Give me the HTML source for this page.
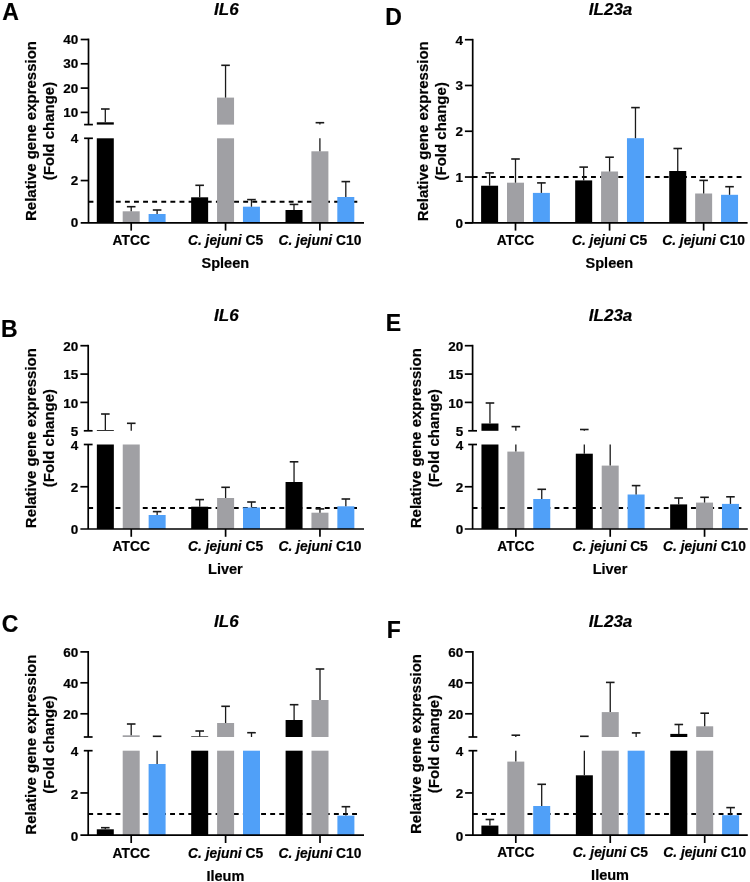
<!DOCTYPE html>
<html><head><meta charset="utf-8"><style>
html,body{margin:0;padding:0;background:#fff;}
svg{display:block;will-change:transform;}
text{font-family:"Liberation Sans", sans-serif;font-weight:bold;fill:#000;stroke:#000;stroke-width:0.2px;}
</style></head><body>
<svg width="750" height="882" viewBox="0 0 750 882">
<rect width="750" height="882" fill="#fff"/>
<g transform="translate(0,0)">
<text x="2.3" y="19.7" font-size="23" text-anchor="start">A</text>
<text x="226.4" y="14.7" font-size="17" text-anchor="middle" font-style="italic">IL6</text>
<text transform="translate(36.2,131) rotate(-90)" font-size="15" text-anchor="middle">Relative gene expression</text>
<text transform="translate(53.7,131) rotate(-90)" font-size="15" text-anchor="middle">(Fold change)</text>
<line x1="88.5" y1="201.68" x2="358.8" y2="201.68" stroke="#000" stroke-width="2.0" stroke-dasharray="4.9 4.2"/>
<rect x="96.8" y="138.3" width="17" height="84.5" fill="#000"/>
<rect x="96.8" y="122.3" width="17" height="2.3" fill="#000"/>
<line x1="105.3" y1="122.3" x2="105.3" y2="109" stroke="#1a1a1a" stroke-width="1.3"/>
<line x1="101" y1="109" x2="109.6" y2="109" stroke="#1a1a1a" stroke-width="1.6"/>
<rect x="122.7" y="211.3" width="17" height="11.5" fill="#a0a0a4"/>
<line x1="131.2" y1="211.3" x2="131.2" y2="206.7" stroke="#1a1a1a" stroke-width="1.3"/>
<line x1="126.9" y1="206.7" x2="135.5" y2="206.7" stroke="#1a1a1a" stroke-width="1.6"/>
<rect x="148.6" y="214" width="17" height="8.8" fill="#50a0f8"/>
<line x1="157.1" y1="214" x2="157.1" y2="210" stroke="#1a1a1a" stroke-width="1.3"/>
<line x1="152.8" y1="210" x2="161.4" y2="210" stroke="#1a1a1a" stroke-width="1.6"/>
<rect x="191.15" y="197.3" width="17" height="25.5" fill="#000"/>
<line x1="199.65" y1="197.3" x2="199.65" y2="185.3" stroke="#1a1a1a" stroke-width="1.3"/>
<line x1="195.35" y1="185.3" x2="203.95" y2="185.3" stroke="#1a1a1a" stroke-width="1.6"/>
<rect x="217.05" y="138.3" width="17" height="84.5" fill="#a0a0a4"/>
<rect x="217.05" y="97.6" width="17" height="27" fill="#a0a0a4"/>
<line x1="225.55" y1="97.6" x2="225.55" y2="65.3" stroke="#1a1a1a" stroke-width="1.3"/>
<line x1="221.25" y1="65.3" x2="229.85" y2="65.3" stroke="#1a1a1a" stroke-width="1.6"/>
<rect x="242.95" y="206.7" width="17" height="16.1" fill="#50a0f8"/>
<line x1="251.45" y1="206.7" x2="251.45" y2="199.6" stroke="#1a1a1a" stroke-width="1.3"/>
<line x1="247.15" y1="199.6" x2="255.75" y2="199.6" stroke="#1a1a1a" stroke-width="1.6"/>
<rect x="285.5" y="210" width="17" height="12.8" fill="#000"/>
<line x1="294" y1="210" x2="294" y2="204.4" stroke="#1a1a1a" stroke-width="1.3"/>
<line x1="289.7" y1="204.4" x2="298.3" y2="204.4" stroke="#1a1a1a" stroke-width="1.6"/>
<rect x="311.4" y="151.3" width="17" height="71.5" fill="#a0a0a4"/>
<line x1="319.9" y1="151.3" x2="319.9" y2="138.3" stroke="#1a1a1a" stroke-width="1.3"/>
<line x1="319.9" y1="124.6" x2="319.9" y2="122.7" stroke="#1a1a1a" stroke-width="1.3"/>
<line x1="315.6" y1="122.7" x2="324.2" y2="122.7" stroke="#1a1a1a" stroke-width="1.6"/>
<rect x="337.3" y="197" width="17" height="25.8" fill="#50a0f8"/>
<line x1="345.8" y1="197" x2="345.8" y2="181.6" stroke="#1a1a1a" stroke-width="1.3"/>
<line x1="341.5" y1="181.6" x2="350.1" y2="181.6" stroke="#1a1a1a" stroke-width="1.6"/>
<line x1="88.5" y1="38.6" x2="88.5" y2="124.6" stroke="#000" stroke-width="1.7"/>
<line x1="88.5" y1="138.3" x2="88.5" y2="222.8" stroke="#000" stroke-width="1.7"/>
<line x1="84.1" y1="124.6" x2="92.9" y2="124.6" stroke="#000" stroke-width="1.7"/>
<line x1="84.1" y1="138.3" x2="92.9" y2="138.3" stroke="#000" stroke-width="1.7"/>
<line x1="80.7" y1="39.5" x2="88.5" y2="39.5" stroke="#000" stroke-width="1.7"/>
<text x="78.3" y="44.1" font-size="13.5" text-anchor="end">40</text>
<line x1="80.7" y1="63.8" x2="88.5" y2="63.8" stroke="#000" stroke-width="1.7"/>
<text x="78.3" y="68.4" font-size="13.5" text-anchor="end">30</text>
<line x1="80.7" y1="88.1" x2="88.5" y2="88.1" stroke="#000" stroke-width="1.7"/>
<text x="78.3" y="92.7" font-size="13.5" text-anchor="end">20</text>
<line x1="80.7" y1="112.4" x2="88.5" y2="112.4" stroke="#000" stroke-width="1.7"/>
<text x="78.3" y="117" font-size="13.5" text-anchor="end">10</text>
<line x1="80.7" y1="180.55" x2="88.5" y2="180.55" stroke="#000" stroke-width="1.7"/>
<text x="78.3" y="142.9" font-size="13.5" text-anchor="end">4</text>
<text x="78.3" y="185.15" font-size="13.5" text-anchor="end">2</text>
<text x="78.3" y="227.4" font-size="13.5" text-anchor="end">0</text>
<line x1="80.7" y1="222.8" x2="364" y2="222.8" stroke="#000" stroke-width="1.7"/>
<line x1="131.2" y1="222.8" x2="131.2" y2="230.6" stroke="#000" stroke-width="1.7"/>
<line x1="225.55" y1="222.8" x2="225.55" y2="230.6" stroke="#000" stroke-width="1.7"/>
<line x1="319.9" y1="222.8" x2="319.9" y2="230.6" stroke="#000" stroke-width="1.7"/>
<text x="131.2" y="245" font-size="13.8" text-anchor="middle">ATCC</text>
<text x="225.55" y="245" font-size="13.8" text-anchor="middle"><tspan font-style="italic">C. jejuni</tspan> C5</text>
<text x="319.9" y="245" font-size="13.8" text-anchor="middle"><tspan font-style="italic">C. jejuni</tspan> C10</text>
<text x="225.35" y="267.6" font-size="14.5" text-anchor="middle">Spleen</text>
</g>
<g transform="translate(0,306.2)">
<text x="1" y="30.5" font-size="23" text-anchor="start">B</text>
<text x="226.4" y="14.7" font-size="17" text-anchor="middle" font-style="italic">IL6</text>
<text transform="translate(36.2,131.9) rotate(-90)" font-size="15" text-anchor="middle">Relative gene expression</text>
<text transform="translate(53.7,131.9) rotate(-90)" font-size="15" text-anchor="middle">(Fold change)</text>
<line x1="88.2" y1="201.68" x2="358.8" y2="201.68" stroke="#000" stroke-width="2.0" stroke-dasharray="4.9 4.2"/>
<rect x="96.85" y="138.3" width="17" height="84.5" fill="#000"/>
<rect x="96.85" y="123.8" width="17" height="0.8" fill="#000"/>
<line x1="105.35" y1="123.8" x2="105.35" y2="107.8" stroke="#1a1a1a" stroke-width="1.3"/>
<line x1="101.05" y1="107.8" x2="109.65" y2="107.8" stroke="#1a1a1a" stroke-width="1.6"/>
<rect x="122.75" y="138.3" width="17" height="84.5" fill="#a0a0a4"/>
<line x1="131.25" y1="124.6" x2="131.25" y2="117.1" stroke="#1a1a1a" stroke-width="1.3"/>
<line x1="126.95" y1="117.1" x2="135.55" y2="117.1" stroke="#1a1a1a" stroke-width="1.6"/>
<rect x="148.65" y="208.8" width="17" height="14" fill="#50a0f8"/>
<line x1="157.15" y1="208.8" x2="157.15" y2="205.4" stroke="#1a1a1a" stroke-width="1.3"/>
<line x1="152.85" y1="205.4" x2="161.45" y2="205.4" stroke="#1a1a1a" stroke-width="1.6"/>
<rect x="191.2" y="200.5" width="17" height="22.3" fill="#000"/>
<line x1="199.7" y1="200.5" x2="199.7" y2="193.4" stroke="#1a1a1a" stroke-width="1.3"/>
<line x1="195.4" y1="193.4" x2="204" y2="193.4" stroke="#1a1a1a" stroke-width="1.6"/>
<rect x="217.1" y="191.8" width="17" height="31" fill="#a0a0a4"/>
<line x1="225.6" y1="191.8" x2="225.6" y2="181.1" stroke="#1a1a1a" stroke-width="1.3"/>
<line x1="221.3" y1="181.1" x2="229.9" y2="181.1" stroke="#1a1a1a" stroke-width="1.6"/>
<rect x="243" y="201.3" width="17" height="21.5" fill="#50a0f8"/>
<line x1="251.5" y1="201.3" x2="251.5" y2="195.8" stroke="#1a1a1a" stroke-width="1.3"/>
<line x1="247.2" y1="195.8" x2="255.8" y2="195.8" stroke="#1a1a1a" stroke-width="1.6"/>
<rect x="285.55" y="175.8" width="17" height="47" fill="#000"/>
<line x1="294.05" y1="175.8" x2="294.05" y2="155.6" stroke="#1a1a1a" stroke-width="1.3"/>
<line x1="289.75" y1="155.6" x2="298.35" y2="155.6" stroke="#1a1a1a" stroke-width="1.6"/>
<rect x="311.45" y="206.5" width="17" height="16.3" fill="#a0a0a4"/>
<line x1="319.95" y1="206.5" x2="319.95" y2="202.7" stroke="#1a1a1a" stroke-width="1.3"/>
<line x1="315.65" y1="202.7" x2="324.25" y2="202.7" stroke="#1a1a1a" stroke-width="1.6"/>
<rect x="337.35" y="200.1" width="17" height="22.7" fill="#50a0f8"/>
<line x1="345.85" y1="200.1" x2="345.85" y2="192.8" stroke="#1a1a1a" stroke-width="1.3"/>
<line x1="341.55" y1="192.8" x2="350.15" y2="192.8" stroke="#1a1a1a" stroke-width="1.6"/>
<line x1="88.2" y1="38.6" x2="88.2" y2="124.6" stroke="#000" stroke-width="1.7"/>
<line x1="88.2" y1="138.3" x2="88.2" y2="222.8" stroke="#000" stroke-width="1.7"/>
<line x1="83.8" y1="124.6" x2="92.6" y2="124.6" stroke="#000" stroke-width="1.7"/>
<line x1="83.8" y1="138.3" x2="92.6" y2="138.3" stroke="#000" stroke-width="1.7"/>
<line x1="80.4" y1="39.5" x2="88.2" y2="39.5" stroke="#000" stroke-width="1.7"/>
<text x="78.3" y="44.9" font-size="13.5" text-anchor="end">20</text>
<line x1="80.4" y1="67.9" x2="88.2" y2="67.9" stroke="#000" stroke-width="1.7"/>
<text x="78.3" y="73.3" font-size="13.5" text-anchor="end">15</text>
<line x1="80.4" y1="96.2" x2="88.2" y2="96.2" stroke="#000" stroke-width="1.7"/>
<text x="78.3" y="101.6" font-size="13.5" text-anchor="end">10</text>
<text x="78.3" y="130" font-size="13.5" text-anchor="end">5</text>
<line x1="80.4" y1="180.55" x2="88.2" y2="180.55" stroke="#000" stroke-width="1.7"/>
<text x="78.3" y="143.7" font-size="13.5" text-anchor="end">4</text>
<text x="78.3" y="185.95" font-size="13.5" text-anchor="end">2</text>
<text x="78.3" y="228.2" font-size="13.5" text-anchor="end">0</text>
<line x1="80.4" y1="222.8" x2="364" y2="222.8" stroke="#000" stroke-width="1.7"/>
<line x1="131.25" y1="222.8" x2="131.25" y2="230.6" stroke="#000" stroke-width="1.7"/>
<line x1="225.6" y1="222.8" x2="225.6" y2="230.6" stroke="#000" stroke-width="1.7"/>
<line x1="319.95" y1="222.8" x2="319.95" y2="230.6" stroke="#000" stroke-width="1.7"/>
<text x="131.25" y="245" font-size="13.8" text-anchor="middle">ATCC</text>
<text x="225.6" y="245" font-size="13.8" text-anchor="middle"><tspan font-style="italic">C. jejuni</tspan> C5</text>
<text x="319.95" y="245" font-size="13.8" text-anchor="middle"><tspan font-style="italic">C. jejuni</tspan> C10</text>
<text x="225.4" y="267.6" font-size="14.5" text-anchor="middle">Liver</text>
</g>
<g transform="translate(0,612.4)">
<text x="1.7" y="19.6" font-size="23" text-anchor="start">C</text>
<text x="226.4" y="14.7" font-size="17" text-anchor="middle" font-style="italic">IL6</text>
<text transform="translate(36.2,132.2) rotate(-90)" font-size="15" text-anchor="middle">Relative gene expression</text>
<text transform="translate(53.7,132.2) rotate(-90)" font-size="15" text-anchor="middle">(Fold change)</text>
<line x1="88.2" y1="201.68" x2="358.8" y2="201.68" stroke="#000" stroke-width="2.0" stroke-dasharray="4.9 4.2"/>
<rect x="96.8" y="216.9" width="17" height="5.9" fill="#000"/>
<line x1="105.3" y1="216.9" x2="105.3" y2="215.3" stroke="#1a1a1a" stroke-width="1.3"/>
<line x1="101" y1="215.3" x2="109.6" y2="215.3" stroke="#1a1a1a" stroke-width="1.6"/>
<rect x="122.7" y="138.3" width="17" height="84.5" fill="#a0a0a4"/>
<rect x="122.7" y="122.9" width="17" height="1.7" fill="#a0a0a4"/>
<line x1="131.2" y1="122.9" x2="131.2" y2="111.6" stroke="#1a1a1a" stroke-width="1.3"/>
<line x1="126.9" y1="111.6" x2="135.5" y2="111.6" stroke="#1a1a1a" stroke-width="1.6"/>
<rect x="148.6" y="151.6" width="17" height="71.2" fill="#50a0f8"/>
<line x1="157.1" y1="151.6" x2="157.1" y2="138.3" stroke="#1a1a1a" stroke-width="1.3"/>
<line x1="157.1" y1="124.6" x2="157.1" y2="123.9" stroke="#1a1a1a" stroke-width="1.3"/>
<line x1="152.8" y1="123.9" x2="161.4" y2="123.9" stroke="#1a1a1a" stroke-width="1.6"/>
<rect x="191.2" y="138.3" width="17" height="84.5" fill="#000"/>
<rect x="191.2" y="124" width="17" height="0.6" fill="#000"/>
<line x1="199.7" y1="124" x2="199.7" y2="118.6" stroke="#1a1a1a" stroke-width="1.3"/>
<line x1="195.4" y1="118.6" x2="204" y2="118.6" stroke="#1a1a1a" stroke-width="1.6"/>
<rect x="217.1" y="138.3" width="17" height="84.5" fill="#a0a0a4"/>
<rect x="217.1" y="110.6" width="17" height="14" fill="#a0a0a4"/>
<line x1="225.6" y1="110.6" x2="225.6" y2="93.9" stroke="#1a1a1a" stroke-width="1.3"/>
<line x1="221.3" y1="93.9" x2="229.9" y2="93.9" stroke="#1a1a1a" stroke-width="1.6"/>
<rect x="243" y="138.3" width="17" height="84.5" fill="#50a0f8"/>
<line x1="251.5" y1="124.6" x2="251.5" y2="120.3" stroke="#1a1a1a" stroke-width="1.3"/>
<line x1="247.2" y1="120.3" x2="255.8" y2="120.3" stroke="#1a1a1a" stroke-width="1.6"/>
<rect x="285.6" y="138.3" width="17" height="84.5" fill="#000"/>
<rect x="285.6" y="107.6" width="17" height="17" fill="#000"/>
<line x1="294.1" y1="107.6" x2="294.1" y2="92.3" stroke="#1a1a1a" stroke-width="1.3"/>
<line x1="289.8" y1="92.3" x2="298.4" y2="92.3" stroke="#1a1a1a" stroke-width="1.6"/>
<rect x="311.5" y="138.3" width="17" height="84.5" fill="#a0a0a4"/>
<rect x="311.5" y="87.6" width="17" height="37" fill="#a0a0a4"/>
<line x1="320" y1="87.6" x2="320" y2="56.6" stroke="#1a1a1a" stroke-width="1.3"/>
<line x1="315.7" y1="56.6" x2="324.3" y2="56.6" stroke="#1a1a1a" stroke-width="1.6"/>
<rect x="337.4" y="203.2" width="17" height="19.6" fill="#50a0f8"/>
<line x1="345.9" y1="203.2" x2="345.9" y2="194.3" stroke="#1a1a1a" stroke-width="1.3"/>
<line x1="341.6" y1="194.3" x2="350.2" y2="194.3" stroke="#1a1a1a" stroke-width="1.6"/>
<line x1="88.2" y1="38.6" x2="88.2" y2="124.6" stroke="#000" stroke-width="1.7"/>
<line x1="88.2" y1="138.3" x2="88.2" y2="222.8" stroke="#000" stroke-width="1.7"/>
<line x1="83.8" y1="124.6" x2="92.6" y2="124.6" stroke="#000" stroke-width="1.7"/>
<line x1="83.8" y1="138.3" x2="92.6" y2="138.3" stroke="#000" stroke-width="1.7"/>
<line x1="80.4" y1="39.5" x2="88.2" y2="39.5" stroke="#000" stroke-width="1.7"/>
<text x="78.3" y="45.1" font-size="13.5" text-anchor="end">60</text>
<line x1="80.4" y1="70.4" x2="88.2" y2="70.4" stroke="#000" stroke-width="1.7"/>
<text x="78.3" y="76" font-size="13.5" text-anchor="end">40</text>
<line x1="80.4" y1="101.4" x2="88.2" y2="101.4" stroke="#000" stroke-width="1.7"/>
<text x="78.3" y="107" font-size="13.5" text-anchor="end">20</text>
<line x1="80.4" y1="180.55" x2="88.2" y2="180.55" stroke="#000" stroke-width="1.7"/>
<text x="78.3" y="143.9" font-size="13.5" text-anchor="end">4</text>
<text x="78.3" y="186.15" font-size="13.5" text-anchor="end">2</text>
<text x="78.3" y="228.4" font-size="13.5" text-anchor="end">0</text>
<line x1="80.4" y1="222.8" x2="364" y2="222.8" stroke="#000" stroke-width="1.7"/>
<line x1="131.2" y1="222.8" x2="131.2" y2="230.6" stroke="#000" stroke-width="1.7"/>
<line x1="225.6" y1="222.8" x2="225.6" y2="230.6" stroke="#000" stroke-width="1.7"/>
<line x1="320" y1="222.8" x2="320" y2="230.6" stroke="#000" stroke-width="1.7"/>
<text x="131.2" y="246" font-size="13.8" text-anchor="middle">ATCC</text>
<text x="225.6" y="246" font-size="13.8" text-anchor="middle"><tspan font-style="italic">C. jejuni</tspan> C5</text>
<text x="320" y="246" font-size="13.8" text-anchor="middle"><tspan font-style="italic">C. jejuni</tspan> C10</text>
<text x="225.4" y="268.6" font-size="14.5" text-anchor="middle">Ileum</text>
</g>
<g transform="translate(384.2,0)">
<text x="1.1" y="25.3" font-size="23" text-anchor="start">D</text>
<text x="226.4" y="14.7" font-size="17" text-anchor="middle" font-style="italic">IL23a</text>
<text transform="translate(44.1,131.3) rotate(-90)" font-size="15" text-anchor="middle">Relative gene expression</text>
<text transform="translate(61.6,131.3) rotate(-90)" font-size="15" text-anchor="middle">(Fold change)</text>
<line x1="88.5" y1="177.03" x2="358.2" y2="177.03" stroke="#000" stroke-width="2.0" stroke-dasharray="4.9 4.2"/>
<rect x="96.9" y="185.7" width="17" height="37.1" fill="#000"/>
<line x1="105.4" y1="185.7" x2="105.4" y2="172.9" stroke="#1a1a1a" stroke-width="1.3"/>
<line x1="101.1" y1="172.9" x2="109.7" y2="172.9" stroke="#1a1a1a" stroke-width="1.6"/>
<rect x="122.8" y="182.7" width="17" height="40.1" fill="#a0a0a4"/>
<line x1="131.3" y1="182.7" x2="131.3" y2="159" stroke="#1a1a1a" stroke-width="1.3"/>
<line x1="127" y1="159" x2="135.6" y2="159" stroke="#1a1a1a" stroke-width="1.6"/>
<rect x="148.7" y="192.9" width="17" height="29.9" fill="#50a0f8"/>
<line x1="157.2" y1="192.9" x2="157.2" y2="182.9" stroke="#1a1a1a" stroke-width="1.3"/>
<line x1="152.9" y1="182.9" x2="161.5" y2="182.9" stroke="#1a1a1a" stroke-width="1.6"/>
<rect x="190.97" y="180.4" width="17" height="42.4" fill="#000"/>
<line x1="199.47" y1="180.4" x2="199.47" y2="167.1" stroke="#1a1a1a" stroke-width="1.3"/>
<line x1="195.17" y1="167.1" x2="203.77" y2="167.1" stroke="#1a1a1a" stroke-width="1.6"/>
<rect x="216.87" y="171.5" width="17" height="51.3" fill="#a0a0a4"/>
<line x1="225.37" y1="171.5" x2="225.37" y2="157.2" stroke="#1a1a1a" stroke-width="1.3"/>
<line x1="221.07" y1="157.2" x2="229.67" y2="157.2" stroke="#1a1a1a" stroke-width="1.6"/>
<rect x="242.77" y="138.2" width="17" height="84.6" fill="#50a0f8"/>
<line x1="251.27" y1="138.2" x2="251.27" y2="107.6" stroke="#1a1a1a" stroke-width="1.3"/>
<line x1="246.97" y1="107.6" x2="255.57" y2="107.6" stroke="#1a1a1a" stroke-width="1.6"/>
<rect x="285.04" y="171" width="17" height="51.8" fill="#000"/>
<line x1="293.54" y1="171" x2="293.54" y2="148.5" stroke="#1a1a1a" stroke-width="1.3"/>
<line x1="289.24" y1="148.5" x2="297.84" y2="148.5" stroke="#1a1a1a" stroke-width="1.6"/>
<rect x="310.94" y="193.5" width="17" height="29.3" fill="#a0a0a4"/>
<line x1="319.44" y1="193.5" x2="319.44" y2="180.4" stroke="#1a1a1a" stroke-width="1.3"/>
<line x1="315.14" y1="180.4" x2="323.74" y2="180.4" stroke="#1a1a1a" stroke-width="1.6"/>
<rect x="336.84" y="194.8" width="17" height="28" fill="#50a0f8"/>
<line x1="345.34" y1="194.8" x2="345.34" y2="186.7" stroke="#1a1a1a" stroke-width="1.3"/>
<line x1="341.04" y1="186.7" x2="349.64" y2="186.7" stroke="#1a1a1a" stroke-width="1.6"/>
<line x1="88.5" y1="38.85" x2="88.5" y2="222.8" stroke="#000" stroke-width="1.7"/>
<line x1="80.7" y1="222.8" x2="88.5" y2="222.8" stroke="#000" stroke-width="1.7"/>
<text x="78.8" y="227.7" font-size="13.5" text-anchor="end">0</text>
<line x1="80.7" y1="177.03" x2="88.5" y2="177.03" stroke="#000" stroke-width="1.7"/>
<text x="78.8" y="181.93" font-size="13.5" text-anchor="end">1</text>
<line x1="80.7" y1="131.25" x2="88.5" y2="131.25" stroke="#000" stroke-width="1.7"/>
<text x="78.8" y="136.15" font-size="13.5" text-anchor="end">2</text>
<line x1="80.7" y1="85.48" x2="88.5" y2="85.48" stroke="#000" stroke-width="1.7"/>
<text x="78.8" y="90.38" font-size="13.5" text-anchor="end">3</text>
<line x1="80.7" y1="39.7" x2="88.5" y2="39.7" stroke="#000" stroke-width="1.7"/>
<text x="78.8" y="44.6" font-size="13.5" text-anchor="end">4</text>
<line x1="80.7" y1="222.8" x2="363.4" y2="222.8" stroke="#000" stroke-width="1.7"/>
<line x1="131.3" y1="222.8" x2="131.3" y2="230.6" stroke="#000" stroke-width="1.7"/>
<line x1="225.37" y1="222.8" x2="225.37" y2="230.6" stroke="#000" stroke-width="1.7"/>
<line x1="319.44" y1="222.8" x2="319.44" y2="230.6" stroke="#000" stroke-width="1.7"/>
<text x="131.3" y="245" font-size="13.8" text-anchor="middle">ATCC</text>
<text x="225.37" y="245" font-size="13.8" text-anchor="middle"><tspan font-style="italic">C. jejuni</tspan> C5</text>
<text x="319.44" y="245" font-size="13.8" text-anchor="middle"><tspan font-style="italic">C. jejuni</tspan> C10</text>
<text x="225.17" y="267.6" font-size="14.5" text-anchor="middle">Spleen</text>
</g>
<g transform="translate(384.2,306.2)">
<text x="1.5" y="24.5" font-size="23" text-anchor="start">E</text>
<text x="226.4" y="14.7" font-size="17" text-anchor="middle" font-style="italic">IL23a</text>
<text transform="translate(37,132.0) rotate(-90)" font-size="15" text-anchor="middle">Relative gene expression</text>
<text transform="translate(54.5,132.0) rotate(-90)" font-size="15" text-anchor="middle">(Fold change)</text>
<line x1="88.4" y1="201.68" x2="358.4" y2="201.68" stroke="#000" stroke-width="2.0" stroke-dasharray="4.9 4.2"/>
<rect x="97.25" y="138.3" width="17" height="84.5" fill="#000"/>
<rect x="97.25" y="117.3" width="17" height="7.3" fill="#000"/>
<line x1="105.75" y1="117.3" x2="105.75" y2="96.8" stroke="#1a1a1a" stroke-width="1.3"/>
<line x1="101.45" y1="96.8" x2="110.05" y2="96.8" stroke="#1a1a1a" stroke-width="1.6"/>
<rect x="123.15" y="145.4" width="17" height="77.4" fill="#a0a0a4"/>
<line x1="131.65" y1="145.4" x2="131.65" y2="138.3" stroke="#1a1a1a" stroke-width="1.3"/>
<line x1="131.65" y1="124.6" x2="131.65" y2="120.4" stroke="#1a1a1a" stroke-width="1.3"/>
<line x1="127.35" y1="120.4" x2="135.95" y2="120.4" stroke="#1a1a1a" stroke-width="1.6"/>
<rect x="149.05" y="192.8" width="17" height="30" fill="#50a0f8"/>
<line x1="157.55" y1="192.8" x2="157.55" y2="183.1" stroke="#1a1a1a" stroke-width="1.3"/>
<line x1="153.25" y1="183.1" x2="161.85" y2="183.1" stroke="#1a1a1a" stroke-width="1.6"/>
<rect x="191.6" y="147.5" width="17" height="75.3" fill="#000"/>
<line x1="200.1" y1="147.5" x2="200.1" y2="138.3" stroke="#1a1a1a" stroke-width="1.3"/>
<line x1="200.1" y1="124.6" x2="200.1" y2="123.3" stroke="#1a1a1a" stroke-width="1.3"/>
<line x1="195.8" y1="123.3" x2="204.4" y2="123.3" stroke="#1a1a1a" stroke-width="1.6"/>
<rect x="217.5" y="159.4" width="17" height="63.4" fill="#a0a0a4"/>
<line x1="226" y1="159.4" x2="226" y2="138.3" stroke="#1a1a1a" stroke-width="1.3"/>
<rect x="243.4" y="188.3" width="17" height="34.5" fill="#50a0f8"/>
<line x1="251.9" y1="188.3" x2="251.9" y2="179.4" stroke="#1a1a1a" stroke-width="1.3"/>
<line x1="247.6" y1="179.4" x2="256.2" y2="179.4" stroke="#1a1a1a" stroke-width="1.6"/>
<rect x="285.95" y="198.2" width="17" height="24.6" fill="#000"/>
<line x1="294.45" y1="198.2" x2="294.45" y2="191.8" stroke="#1a1a1a" stroke-width="1.3"/>
<line x1="290.15" y1="191.8" x2="298.75" y2="191.8" stroke="#1a1a1a" stroke-width="1.6"/>
<rect x="311.85" y="196.4" width="17" height="26.4" fill="#a0a0a4"/>
<line x1="320.35" y1="196.4" x2="320.35" y2="191.1" stroke="#1a1a1a" stroke-width="1.3"/>
<line x1="316.05" y1="191.1" x2="324.65" y2="191.1" stroke="#1a1a1a" stroke-width="1.6"/>
<rect x="337.75" y="197.7" width="17" height="25.1" fill="#50a0f8"/>
<line x1="346.25" y1="197.7" x2="346.25" y2="190.6" stroke="#1a1a1a" stroke-width="1.3"/>
<line x1="341.95" y1="190.6" x2="350.55" y2="190.6" stroke="#1a1a1a" stroke-width="1.6"/>
<line x1="88.4" y1="38.6" x2="88.4" y2="124.6" stroke="#000" stroke-width="1.7"/>
<line x1="88.4" y1="138.3" x2="88.4" y2="222.8" stroke="#000" stroke-width="1.7"/>
<line x1="84" y1="124.6" x2="92.8" y2="124.6" stroke="#000" stroke-width="1.7"/>
<line x1="84" y1="138.3" x2="92.8" y2="138.3" stroke="#000" stroke-width="1.7"/>
<line x1="80.6" y1="39.5" x2="88.4" y2="39.5" stroke="#000" stroke-width="1.7"/>
<text x="79.1" y="44.9" font-size="13.5" text-anchor="end">20</text>
<line x1="80.6" y1="67.9" x2="88.4" y2="67.9" stroke="#000" stroke-width="1.7"/>
<text x="79.1" y="73.3" font-size="13.5" text-anchor="end">15</text>
<line x1="80.6" y1="96.2" x2="88.4" y2="96.2" stroke="#000" stroke-width="1.7"/>
<text x="79.1" y="101.6" font-size="13.5" text-anchor="end">10</text>
<text x="79.1" y="130" font-size="13.5" text-anchor="end">5</text>
<line x1="80.6" y1="180.55" x2="88.4" y2="180.55" stroke="#000" stroke-width="1.7"/>
<text x="79.1" y="143.7" font-size="13.5" text-anchor="end">4</text>
<text x="79.1" y="185.95" font-size="13.5" text-anchor="end">2</text>
<text x="79.1" y="228.2" font-size="13.5" text-anchor="end">0</text>
<line x1="80.6" y1="222.8" x2="363.6" y2="222.8" stroke="#000" stroke-width="1.7"/>
<line x1="131.65" y1="222.8" x2="131.65" y2="230.6" stroke="#000" stroke-width="1.7"/>
<line x1="226" y1="222.8" x2="226" y2="230.6" stroke="#000" stroke-width="1.7"/>
<line x1="320.35" y1="222.8" x2="320.35" y2="230.6" stroke="#000" stroke-width="1.7"/>
<text x="131.65" y="245" font-size="13.8" text-anchor="middle">ATCC</text>
<text x="226" y="245" font-size="13.8" text-anchor="middle"><tspan font-style="italic">C. jejuni</tspan> C5</text>
<text x="320.35" y="245" font-size="13.8" text-anchor="middle"><tspan font-style="italic">C. jejuni</tspan> C10</text>
<text x="225.8" y="267.6" font-size="14.5" text-anchor="middle">Liver</text>
</g>
<g transform="translate(384.2,612.4)">
<text x="2.5" y="25.6" font-size="23" text-anchor="start">F</text>
<text x="226.4" y="14.7" font-size="17" text-anchor="middle" font-style="italic">IL23a</text>
<text transform="translate(37,131.6) rotate(-90)" font-size="15" text-anchor="middle">Relative gene expression</text>
<text transform="translate(54.5,131.6) rotate(-90)" font-size="15" text-anchor="middle">(Fold change)</text>
<line x1="88.7" y1="201.68" x2="358.4" y2="201.68" stroke="#000" stroke-width="2.0" stroke-dasharray="4.9 4.2"/>
<rect x="97.2" y="213.2" width="17" height="9.6" fill="#000"/>
<line x1="105.7" y1="213.2" x2="105.7" y2="207.1" stroke="#1a1a1a" stroke-width="1.3"/>
<line x1="101.4" y1="207.1" x2="110" y2="207.1" stroke="#1a1a1a" stroke-width="1.6"/>
<rect x="123.1" y="149.2" width="17" height="73.6" fill="#a0a0a4"/>
<line x1="131.6" y1="149.2" x2="131.6" y2="138.3" stroke="#1a1a1a" stroke-width="1.3"/>
<line x1="131.6" y1="124.6" x2="131.6" y2="122.8" stroke="#1a1a1a" stroke-width="1.3"/>
<line x1="127.3" y1="122.8" x2="135.9" y2="122.8" stroke="#1a1a1a" stroke-width="1.6"/>
<rect x="149" y="193.6" width="17" height="29.2" fill="#50a0f8"/>
<line x1="157.5" y1="193.6" x2="157.5" y2="171.9" stroke="#1a1a1a" stroke-width="1.3"/>
<line x1="153.2" y1="171.9" x2="161.8" y2="171.9" stroke="#1a1a1a" stroke-width="1.6"/>
<rect x="191.65" y="162.9" width="17" height="59.9" fill="#000"/>
<line x1="200.15" y1="162.9" x2="200.15" y2="138.3" stroke="#1a1a1a" stroke-width="1.3"/>
<line x1="200.15" y1="124.6" x2="200.15" y2="123.9" stroke="#1a1a1a" stroke-width="1.3"/>
<line x1="195.85" y1="123.9" x2="204.45" y2="123.9" stroke="#1a1a1a" stroke-width="1.6"/>
<rect x="217.55" y="138.3" width="17" height="84.5" fill="#a0a0a4"/>
<rect x="217.55" y="99.7" width="17" height="24.9" fill="#a0a0a4"/>
<line x1="226.05" y1="99.7" x2="226.05" y2="70" stroke="#1a1a1a" stroke-width="1.3"/>
<line x1="221.75" y1="70" x2="230.35" y2="70" stroke="#1a1a1a" stroke-width="1.6"/>
<rect x="243.45" y="138.3" width="17" height="84.5" fill="#50a0f8"/>
<line x1="251.95" y1="124.6" x2="251.95" y2="120.5" stroke="#1a1a1a" stroke-width="1.3"/>
<line x1="247.65" y1="120.5" x2="256.25" y2="120.5" stroke="#1a1a1a" stroke-width="1.6"/>
<rect x="286.1" y="138.3" width="17" height="84.5" fill="#000"/>
<rect x="286.1" y="121.5" width="17" height="3.1" fill="#000"/>
<line x1="294.6" y1="121.5" x2="294.6" y2="112.1" stroke="#1a1a1a" stroke-width="1.3"/>
<line x1="290.3" y1="112.1" x2="298.9" y2="112.1" stroke="#1a1a1a" stroke-width="1.6"/>
<rect x="312" y="138.3" width="17" height="84.5" fill="#a0a0a4"/>
<rect x="312" y="113.9" width="17" height="10.7" fill="#a0a0a4"/>
<line x1="320.5" y1="113.9" x2="320.5" y2="100.8" stroke="#1a1a1a" stroke-width="1.3"/>
<line x1="316.2" y1="100.8" x2="324.8" y2="100.8" stroke="#1a1a1a" stroke-width="1.6"/>
<rect x="337.9" y="202.8" width="17" height="20" fill="#50a0f8"/>
<line x1="346.4" y1="202.8" x2="346.4" y2="195.2" stroke="#1a1a1a" stroke-width="1.3"/>
<line x1="342.1" y1="195.2" x2="350.7" y2="195.2" stroke="#1a1a1a" stroke-width="1.6"/>
<line x1="88.7" y1="38.6" x2="88.7" y2="124.6" stroke="#000" stroke-width="1.7"/>
<line x1="88.7" y1="138.3" x2="88.7" y2="222.8" stroke="#000" stroke-width="1.7"/>
<line x1="84.3" y1="124.6" x2="93.1" y2="124.6" stroke="#000" stroke-width="1.7"/>
<line x1="84.3" y1="138.3" x2="93.1" y2="138.3" stroke="#000" stroke-width="1.7"/>
<line x1="80.9" y1="39.5" x2="88.7" y2="39.5" stroke="#000" stroke-width="1.7"/>
<text x="79.1" y="44.9" font-size="13.5" text-anchor="end">60</text>
<line x1="80.9" y1="70.4" x2="88.7" y2="70.4" stroke="#000" stroke-width="1.7"/>
<text x="79.1" y="75.8" font-size="13.5" text-anchor="end">40</text>
<line x1="80.9" y1="101.4" x2="88.7" y2="101.4" stroke="#000" stroke-width="1.7"/>
<text x="79.1" y="106.8" font-size="13.5" text-anchor="end">20</text>
<line x1="80.9" y1="180.55" x2="88.7" y2="180.55" stroke="#000" stroke-width="1.7"/>
<text x="79.1" y="143.7" font-size="13.5" text-anchor="end">4</text>
<text x="79.1" y="185.95" font-size="13.5" text-anchor="end">2</text>
<text x="79.1" y="228.2" font-size="13.5" text-anchor="end">0</text>
<line x1="80.9" y1="222.8" x2="363.6" y2="222.8" stroke="#000" stroke-width="1.7"/>
<line x1="131.6" y1="222.8" x2="131.6" y2="230.6" stroke="#000" stroke-width="1.7"/>
<line x1="226.05" y1="222.8" x2="226.05" y2="230.6" stroke="#000" stroke-width="1.7"/>
<line x1="320.5" y1="222.8" x2="320.5" y2="230.6" stroke="#000" stroke-width="1.7"/>
<text x="131.6" y="245" font-size="13.8" text-anchor="middle">ATCC</text>
<text x="226.05" y="245" font-size="13.8" text-anchor="middle"><tspan font-style="italic">C. jejuni</tspan> C5</text>
<text x="320.5" y="245" font-size="13.8" text-anchor="middle"><tspan font-style="italic">C. jejuni</tspan> C10</text>
<text x="225.85" y="267.6" font-size="14.5" text-anchor="middle">Ileum</text>
</g>
</svg>
</body></html>
